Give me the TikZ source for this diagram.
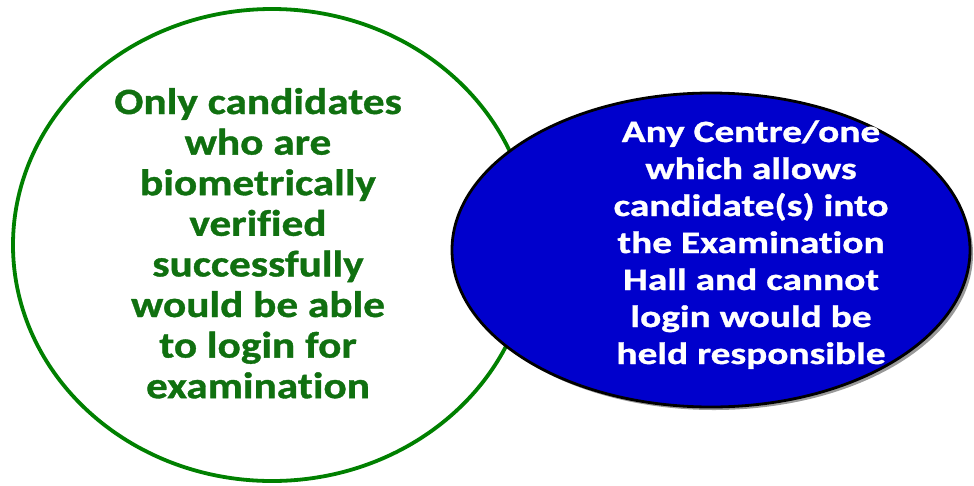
\documentclass[tikz,border=0pt]{standalone}
\usepackage{fontspec}
\setmainfont{Carlito}[Ligatures=NoCommon]
\newfontfamily\greenfont{Carlito}[Ligatures=NoCommon,FakeStretch=1.17,BoldFeatures={FakeBold=1}]
\newfontfamily\bluefont{Carlito}[Ligatures=NoCommon,FakeStretch=1.27,BoldFeatures={FakeBold=1}]
\definecolor{ringgreen}{RGB}{0,128,0}
\definecolor{textgreen}{RGB}{16,112,16}
\definecolor{ovalblue}{RGB}{0,0,204}
\begin{document}
\begin{tikzpicture}[x=1pt,y=-1pt,
  gtext/.style={anchor=base,inner sep=0pt,text=textgreen,font=\greenfont\fontsize{37}{40}\selectfont\bfseries},
  btext/.style={anchor=base,inner sep=0pt,text=white,font=\bluefont\fontsize{31}{36}\selectfont\bfseries}]
\useasboundingbox (0,0) rectangle (974,485);
% green ring
\draw[ringgreen,line width=3.8pt] (272,245) ellipse [x radius=259,y radius=236];
% blue oval shadow and fill
\fill[black!40] (714,254) ellipse [x radius=259,y radius=156];
\draw[black,line width=2.8pt,fill=ovalblue] (711,250) ellipse [x radius=259,y radius=157];
% texts
\foreach \t [count=\i] in {Only candidates,who are,biometrically,verified,successfully,would be able,to login for,examination}
  \node[gtext] (g\i) at (258,{114+(\i-1)*40.6}) {\t};
\foreach \t [count=\i] in {Any Centre/one,which allows,candidate(s) into,the Examination,Hall and cannot,login would be,held responsible}
  \node[btext] (b\i) at (751,{142+(\i-1)*37}) {\t};
\end{tikzpicture}
\end{document}
